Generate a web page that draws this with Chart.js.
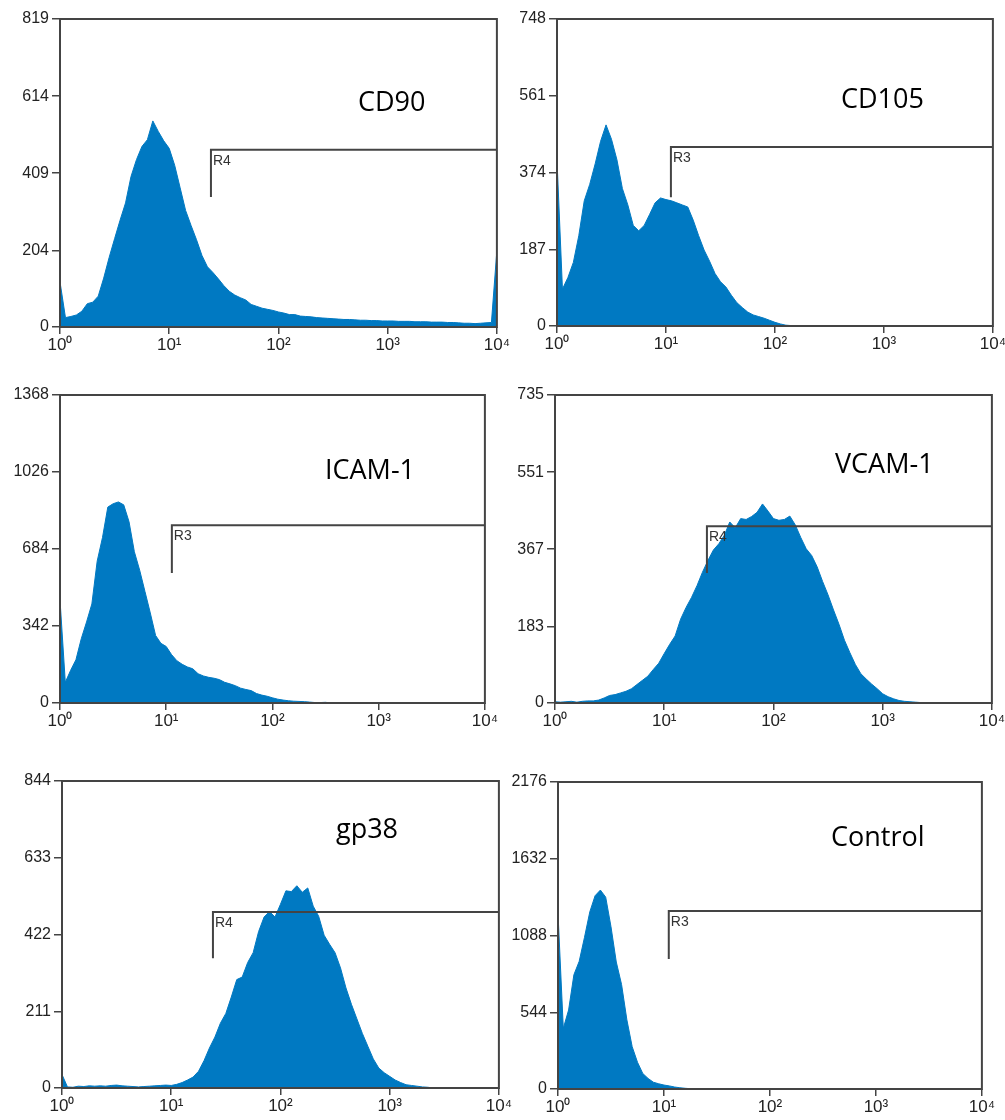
<!DOCTYPE html>
<html>
<head>
<meta charset="utf-8">
<script src="https://cdn.jsdelivr.net/npm/chart.js@4.4.1/dist/chart.umd.min.js"></script>
<style>
  body { margin: 0; background: #fff; }
  #page { position: relative; width: 1005px; height: 1120px; overflow: hidden; }
  #page canvas { position: absolute; }
  .marker {
    position: absolute;
    font-family: "Open Sans", sans-serif;
    font-size: 27px;
    line-height: 27px;
    color: #000;
    white-space: nowrap;
  }
</style>
</head>
<body>
<div id="page"></div>
<script>
// ---- data ----
const xTickValues = [1, 10, 100, 1000, 10000];
const xTickLabels = ["10⁰", "10¹", "10²", "10³", "10⁴"];
const binsPerDecade = 20; // histogram channels per decade (81 channels, 10^0 .. 10^4)

const markerNames = ["CD90", "CD105", "ICAM-1", "VCAM-1", "gp38", "Control"];
const gateNames = ["R4", "R3", "R3", "R4", "R4", "R3"];

const cd90YTicks = [0, 204, 409, 614, 819];
const cd105YTicks = [0, 187, 374, 561, 748];
const icamYTicks = [0, 342, 684, 1026, 1368];
const vcamYTicks = [0, 183, 367, 551, 735];
const gp38YTicks = [0, 211, 422, 633, 844];
const controlYTicks = [0, 544, 1088, 1632, 2176];

const cd90Counts = [
  120, 25, 28, 32, 42, 62, 66, 82, 130, 185, 235, 284, 330, 400, 445, 480, 498, 548, 520, 495,
  475, 430, 370, 310, 270, 232, 190, 160, 145, 128, 110, 95, 85, 78, 72, 60, 55, 50, 47, 44,
  40, 37, 33, 33, 29, 28, 27, 25, 24, 23, 22, 21, 20, 20, 19, 18, 18, 17, 17, 16,
  16, 16, 15, 15, 15, 14, 14, 14, 13, 13, 13, 12, 12, 11, 10, 10, 9, 10, 11, 12,
  204
];
const cd105Counts = [
  404, 90, 118, 155, 220, 305, 345, 395, 450, 490, 455, 405, 335, 295, 245, 232, 245, 272, 300, 312,
  308, 305, 300, 295, 290, 258, 220, 185, 158, 128, 108, 95, 75, 57, 45, 34, 27, 23, 19, 14,
  9, 5, 2, 1, 1, 0, 0, 0, 0, 0, 0, 0, 0, 0, 0, 0, 0, 0, 0, 0,
  0, 0, 0, 0, 0, 0, 0, 0, 0, 0, 0, 0, 0, 0, 0, 0, 0, 0, 0, 0,
  0
];
const icamCounts = [
  458, 92, 145, 192, 285, 360, 440, 630, 735, 870, 885, 893, 880, 805, 672, 590, 495, 400, 300, 265,
  251, 215, 188, 172, 160, 152, 130, 120, 114, 110, 104, 92, 85, 77, 66, 60, 55, 42, 35, 30,
  23, 17, 13, 10, 8, 7, 6, 4, 2, 2, 3, 0, 0, 0, 0, 0, 0, 0, 0, 0,
  0, 0, 0, 0, 0, 0, 0, 0, 0, 0, 0, 0, 0, 0, 0, 0, 0, 0, 0, 0,
  0
];
const vcamCounts = [
  3, 2, 3, 4, 2, 4, 5, 5, 7, 12, 18, 20, 24, 28, 34, 44, 54, 64, 80, 95,
  118, 140, 160, 200, 228, 252, 280, 312, 340, 365, 380, 400, 432, 418, 440, 438, 445, 455, 475, 458,
  440, 436, 438, 446, 425, 395, 368, 352, 325, 290, 258, 222, 188, 150, 120, 92, 70, 57, 45, 34,
  22, 15, 10, 6, 4, 3, 2, 1, 0, 0, 0, 0, 0, 0, 0, 0, 0, 0, 0, 0,
  0
];
const gp38Counts = [
  37, 3, 2, 5, 4, 6, 5, 6, 5, 7, 8, 6, 5, 4, 3, 4, 5, 6, 7, 8,
  7, 10, 15, 22, 30, 46, 75, 110, 140, 178, 205, 250, 298, 305, 345, 372, 430, 470, 485, 470,
  505, 542, 540, 556, 538, 550, 500, 472, 420, 395, 372, 330, 275, 230, 190, 150, 115, 80, 55, 42,
  32, 22, 15, 9, 7, 5, 3, 2, 0, 0, 0, 0, 0, 0, 0, 0, 0, 0, 0, 0,
  0
];
const controlCounts = [
  1245, 430, 560, 810, 905, 1075, 1255, 1370, 1410, 1360, 1150, 900, 740, 490, 300, 190, 110, 75, 48, 37,
  28, 22, 14, 9, 5, 2, 0, 0, 0, 0, 0, 0, 0, 0, 0, 0, 0, 0, 0, 0,
  0, 0, 0, 0, 0, 0, 0, 0, 0, 0, 0, 0, 0, 0, 0, 0, 0, 0, 0, 0,
  0, 0, 0, 0, 0, 0, 0, 0, 0, 0, 0, 0, 0, 0, 0, 0, 0, 0, 0, 0,
  0
];

// gate brackets: start channel value, bracket level (count), lower end of the vertical stroke
const gateStarts = [24.1, 11.1, 11.3, 24.6, 24.1, 11.1];
const gateLevels = [471, 436, 790, 422, 484, 1262];
const gateLows = [346, 314, 577, 310, 357, 921];

const countSeries = [cd90Counts, cd105Counts, icamCounts, vcamCounts, gp38Counts, controlCounts];
const yTickSeries = [cd90YTicks, cd105YTicks, icamYTicks, vcamYTicks, gp38YTicks, controlYTicks];

// ---- layout (page pixels of each plot frame: left, top, right, bottom) ----
const plotBoxes = [
  [60, 19, 497, 327],
  [557, 19, 993, 326],
  [60, 395, 485, 703],
  [555, 395, 992, 703],
  [62, 781, 499, 1088],
  [558, 782, 982, 1089],
];
// marker caption: left edge and baseline
const markerSpots = [
  [358, 110], [841, 107], [325, 478], [835, 472], [336, 837], [831, 845],
];

const FILL = "#0079c2";
const INK = "#444";
const TEXT_FONT = '"Liberation Sans", Arial, sans-serif';
const AXIS_W = 60, AXIS_H = 27, PAD_TOP = 20, PAD_RIGHT = 14;

const framePlugin = {
  id: "frame",
  afterDatasetsDraw(chart) {
    const { ctx, chartArea: a } = chart;
    ctx.save();
    ctx.strokeStyle = INK;
    ctx.lineWidth = 2;
    ctx.strokeRect(a.left, a.top, a.right - a.left, a.bottom - a.top);

    const g = chart.options.plugins.frame;
    const gx = chart.scales.x.getPixelForValue(g.start);
    const gy = chart.scales.y.getPixelForValue(g.level);
    ctx.fillStyle = "#333";
    ctx.font = "14px " + TEXT_FONT;
    ctx.textBaseline = "top";
    ctx.fillText(g.name, gx + 2, gy + 4);
    ctx.restore();
  },
};

const page = document.getElementById("page");

plotBoxes.forEach(([l, t, r, b], k) => {
  const canvas = document.createElement("canvas");
  const w = r - l + AXIS_W + PAD_RIGHT;
  const h = b - t + PAD_TOP + AXIS_H;
  canvas.width = w;
  canvas.height = h;
  canvas.style.left = (l - AXIS_W) + "px";
  canvas.style.top = (t - PAD_TOP) + "px";
  canvas.style.width = w + "px";
  canvas.style.height = h + "px";
  page.appendChild(canvas);

  const yTicks = yTickSeries[k];
  const histogram = countSeries[k].map((c, i) => ({ x: Math.pow(10, i / binsPerDecade), y: c }));
  const gate = [
    { x: gateStarts[k], y: gateLows[k] },
    { x: gateStarts[k], y: gateLevels[k] },
    { x: 10000, y: gateLevels[k] },
  ];

  new Chart(canvas, {
    type: "line",
    data: {
      datasets: [
        {
          data: gate,
          borderColor: INK,
          borderWidth: 2,
          pointRadius: 0,
          fill: false,
          tension: 0,
        },
        {
          data: histogram,
          borderColor: FILL,
          backgroundColor: FILL,
          borderWidth: 1,
          pointRadius: 0,
          tension: 0,
          fill: "origin",
        },
      ],
    },
    options: {
      responsive: false,
      animation: false,
      events: [],
      layout: { padding: { top: PAD_TOP, right: PAD_RIGHT, left: 0, bottom: 0 } },
      plugins: {
        legend: { display: false },
        tooltip: { enabled: false },
        frame: { name: gateNames[k], start: gateStarts[k], level: gateLevels[k] },
      },
      scales: {
        x: {
          type: "logarithmic",
          min: 1,
          max: 10000,
          afterBuildTicks: (s) => { s.ticks = xTickValues.map((v) => ({ value: v })); },
          afterFit: (s) => { s.height = AXIS_H; },
          border: { display: false },
          grid: { drawOnChartArea: false, drawTicks: true, tickLength: 7, color: INK, lineWidth: 1.5 },
          ticks: {
            autoSkip: false,
            maxRotation: 0,
            padding: 1,
            color: "#222",
            font: { family: TEXT_FONT, size: 17 },
            callback: (v, i) => xTickLabels[i],
          },
        },
        y: {
          type: "linear",
          min: 0,
          max: yTicks[yTicks.length - 1],
          afterBuildTicks: (s) => { s.ticks = yTicks.map((v) => ({ value: v })); },
          afterFit: (s) => { s.width = AXIS_W; },
          border: { display: false },
          grid: { drawOnChartArea: false, drawTicks: true, tickLength: 8, color: INK, lineWidth: 1.5 },
          ticks: {
            autoSkip: false,
            padding: 3,
            color: "#222",
            font: { family: TEXT_FONT, size: 16 },
            callback: (v) => String(v),
          },
        },
      },
    },
    plugins: [framePlugin],
  });

  const label = document.createElement("div");
  label.className = "marker";
  label.textContent = markerNames[k];
  label.style.left = markerSpots[k][0] + "px";
  label.style.top = (markerSpots[k][1] - 23) + "px";
  page.appendChild(label);
});
</script>
</body>
</html>
